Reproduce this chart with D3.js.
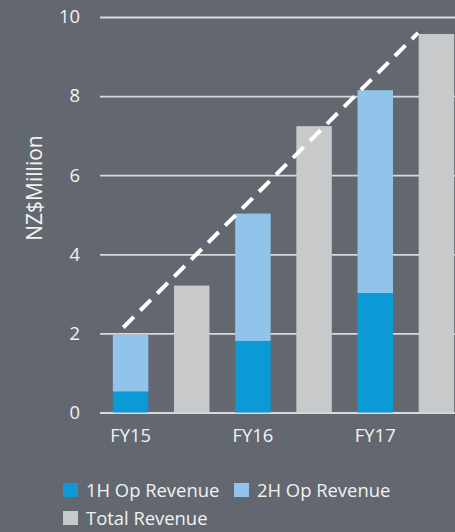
<!DOCTYPE html>
<html>
<head>
<meta charset="utf-8">
<script src="https://cdn.jsdelivr.net/npm/d3@7"></script>
<style>
  html, body { margin: 0; padding: 0; background: #636870; }
  svg { display: block; font-family: "Open Sans", sans-serif; }
</style>
</head>
<body>
<div class="chart"></div>
<script>
// data
var years = ["FY15", "FY16", "FY17"];
var opFirstHalf = [0.53, 1.81, 3.02];
var opSecondHalf = [1.43, 3.22, 5.13];
var totalRevenue = [3.21, 7.24, 9.57];
var yTicks = [0, 2, 4, 6, 8, 10];
// dashed trend: [slot position, value]
var trendLine = [[0.38, 2.15], [5.2, 9.6]];
var legendNames = ["1H Op Revenue", "2H Op Revenue", "Total Revenue"];

var width = 455, height = 532;
var plotLeft = 100, plotRight = 467, plotTop = 17, plotBottom = 412.5;
var colors = ["#0b9ad6", "#91c4ea", "#c8c9cb"];
var textColor = "#f2f2f2";
var fontSize = 18.4;

var svg = d3.select(".chart").append("svg")
  .attr("width", width)
  .attr("height", height);

// one slot per bar: op bar then total bar for each year
var slots = [];
years.forEach(function(y) { slots.push(y + "|op"); slots.push(y + "|total"); });

var x = d3.scaleBand().domain(slots).range([plotLeft, plotRight]).paddingInner(0.42).paddingOuter(0.21);
var xSlot = d3.scaleLinear().domain([0, slots.length]).range([plotLeft, plotRight]);
var y = d3.scaleLinear().domain([0, 10]).range([plotBottom, plotTop]);

// gridlines + y labels
var yAxis = d3.axisLeft(y).tickValues(yTicks).tickSize(-(plotRight - plotLeft)).tickPadding(20);
var gy = svg.append("g").attr("transform", "translate(" + plotLeft + ",0)").call(yAxis);
gy.select(".domain").remove();
gy.selectAll(".tick line").attr("stroke", "#d9d9d9").attr("stroke-width", 1.8);
gy.selectAll(".tick text").attr("fill", textColor).attr("font-size", fontSize).attr("font-family", "Open Sans, sans-serif");

// x labels under op bars
var xAxis = d3.axisBottom(x).tickValues(years.map(function(d) { return d + "|op"; }))
  .tickFormat(function(d) { return d.split("|")[0]; }).tickSize(0).tickPadding(16);
var gx = svg.append("g").attr("transform", "translate(0," + plotBottom + ")").call(xAxis);
gx.select(".domain").remove();
gx.selectAll(".tick text").attr("fill", textColor).attr("font-size", fontSize).attr("font-family", "Open Sans, sans-serif");

// stacked op bars
var stackRows = years.map(function(yr, i) { return {year: yr, h1: opFirstHalf[i], h2: opSecondHalf[i]}; });
var stacked = d3.stack().keys(["h1", "h2"])(stackRows);
svg.append("g").selectAll("g").data(stacked).enter().append("g")
  .attr("fill", function(d, i) { return colors[i]; })
  .selectAll("rect").data(function(d) { return d; }).enter().append("rect")
  .attr("x", function(d) { return x(d.data.year + "|op"); })
  .attr("width", x.bandwidth())
  .attr("y", function(d) { return y(d[1]); })
  .attr("height", function(d) { return y(d[0]) - y(d[1]); });

// total bars
svg.append("g").selectAll("rect").data(years).enter().append("rect")
  .attr("fill", colors[2])
  .attr("x", function(d) { return x(d + "|total"); })
  .attr("width", x.bandwidth())
  .attr("y", function(d, i) { return y(totalRevenue[i]); })
  .attr("height", function(d, i) { return y(0) - y(totalRevenue[i]); });

// dashed trend
svg.append("path")
  .attr("d", d3.line().x(function(d) { return xSlot(d[0]); }).y(function(d) { return y(d[1]); })(trendLine))
  .attr("fill", "none")
  .attr("stroke", "white")
  .attr("stroke-width", 4)
  .attr("stroke-dasharray", "15,9");

// axis title
svg.append("text")
  .attr("transform", "translate(42,188) rotate(-90)")
  .attr("text-anchor", "middle")
  .attr("fill", textColor)
  .attr("font-size", 21)
  .text("NZ$Million");

// legend
var legendPos = [[63, 483], [234, 483], [63, 511]];
var legend = svg.append("g").selectAll("g").data(legendNames).enter().append("g")
  .attr("transform", function(d, i) { return "translate(" + legendPos[i][0] + "," + legendPos[i][1] + ")"; });
legend.append("rect").attr("width", 15).attr("height", 14).attr("fill", function(d, i) { return colors[i]; });
legend.append("text").attr("x", 23).attr("y", 14).attr("fill", textColor).attr("font-size", fontSize).text(function(d) { return d; });
</script>
</body>
</html>
